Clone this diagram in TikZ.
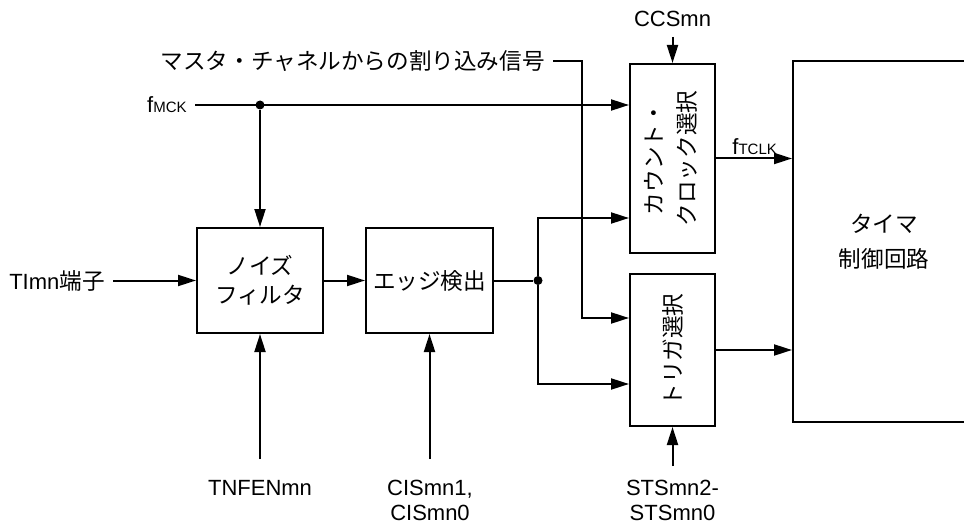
\documentclass[tikz,border=0pt]{standalone}
\usepackage{fontspec}
\setmainfont{Liberation Sans}
\newfontfamily\jpfont{Noto Sans CJK JP}
\usetikzlibrary{arrows.meta,positioning}
\newcommand\clksub[1]{{\fontsize{7.5}{8}\selectfont #1}}
\tikzset{
  blk/.style={draw,line width=1pt,inner sep=0pt,align=center,
              font=\fontsize{11.3}{14.5}\jpfont},
  lbl/.style={inner xsep=4pt,inner ysep=0pt,align=center},
  sig/.style={-{Triangle[length=9pt,width=5.5pt]},line width=1pt},
  wire/.style={line width=1pt},
  jdot/.style={circle,fill,inner sep=0pt,minimum size=4.5pt}
}
\begin{document}
\begin{tikzpicture}[x=0.5pt,y=-0.5pt,font=\fontsize{11}{12.5}\selectfont]
  \useasboundingbox (0,0) rectangle (964,524);
  % blocks
  \node[blk,minimum width=63pt,minimum height=52.5pt] (nf) at (260,280.5) {ノイズ\\フィルタ};
  \node[blk,minimum width=63.5pt,minimum height=52.5pt] (ed) at (429.5,280.5) {エッジ検出};
  \node[blk,minimum width=42.5pt,minimum height=94.5pt,font=\fontsize{11.3}{16.5}\jpfont] (cc) at (672.5,158.5)
    {\rotatebox{90}{\begin{tabular}{@{}c@{}}カウント・\\クロック選択\end{tabular}}};
  \node[blk,minimum width=42.5pt,minimum height=76pt] (ts) at (672.5,350) {\rotatebox{90}{トリガ選択}};
  \node[blk,minimum width=91pt,minimum height=180.5pt,font=\fontsize{11.3}{17.5}\jpfont] (tc) at (884,241.5) {タイマ\\制御回路};
  % labels
  \node[lbl,anchor=east] (mck) at (195,105) {f\clksub{MCK}};
  \node[lbl,anchor=east] (tims) at (113,280.5) {TImn{\fontsize{11.3}{12.5}\jpfont 端子}};
  \node[lbl,anchor=east,font=\fontsize{11.3}{12.5}\jpfont] (intr) at (553,61) {マスタ・チャネルからの割り込み信号};
  \node[lbl,anchor=base] (ccs) at (672.5,27) {CCSmn};
  \node[lbl,anchor=base west,inner xsep=0pt] (tclk) at (732,155) {f\clksub{TCLK}};
  \node[lbl,anchor=north] (tnfen) at (260,480) {TNFENmn};
  \node[lbl,anchor=north] (cis) at (430,480) {CISmn1,\\CISmn0};
  \node[lbl,anchor=north] (sts) at (672.5,480) {STSmn2-\\STSmn0};
  \coordinate (ccsIn) at ([yshift=-5pt]ccs.base);
  \coordinate (tnfenIn) at ([yshift=10.5pt]tnfen.north);
  \coordinate (cisIn) at ([yshift=10.5pt]cis.north -| ed.south);
  \coordinate (stsIn) at ([yshift=7pt]sts.north);
  \coordinate (ibend) at (582,61);
  % junctions
  \node[jdot] (j1) at (nf.north |- mck) {};
  \node[jdot] (j2) at (538,280.5) {};
  % connectors
  \draw[sig] (mck) -- (mck -| cc.west);
  \draw[sig] (j1) -- (nf);
  \draw[sig] (tims) -- (nf);
  \draw[sig] (nf) -- (ed);
  \draw[wire] (ed) -- (j2);
  \draw[sig] (j2) |- ([yshift=18pt]cc.south west);
  \draw[sig] (j2) |- ([yshift=21.5pt]ts.south west);
  \draw[sig] (intr) -- (ibend) |- ([yshift=-22.5pt]ts.north west);
  \draw[sig] (ccsIn) -- (cc);
  \draw[sig] (cc.east) -- (cc.east -| tc.west);
  \draw[sig] (ts) -- (ts -| tc.west);
  \draw[sig] (tnfenIn) -- (nf);
  \draw[sig] (cisIn) -- (ed);
  \draw[sig] (stsIn) -- (ts);
\end{tikzpicture}
\end{document}
